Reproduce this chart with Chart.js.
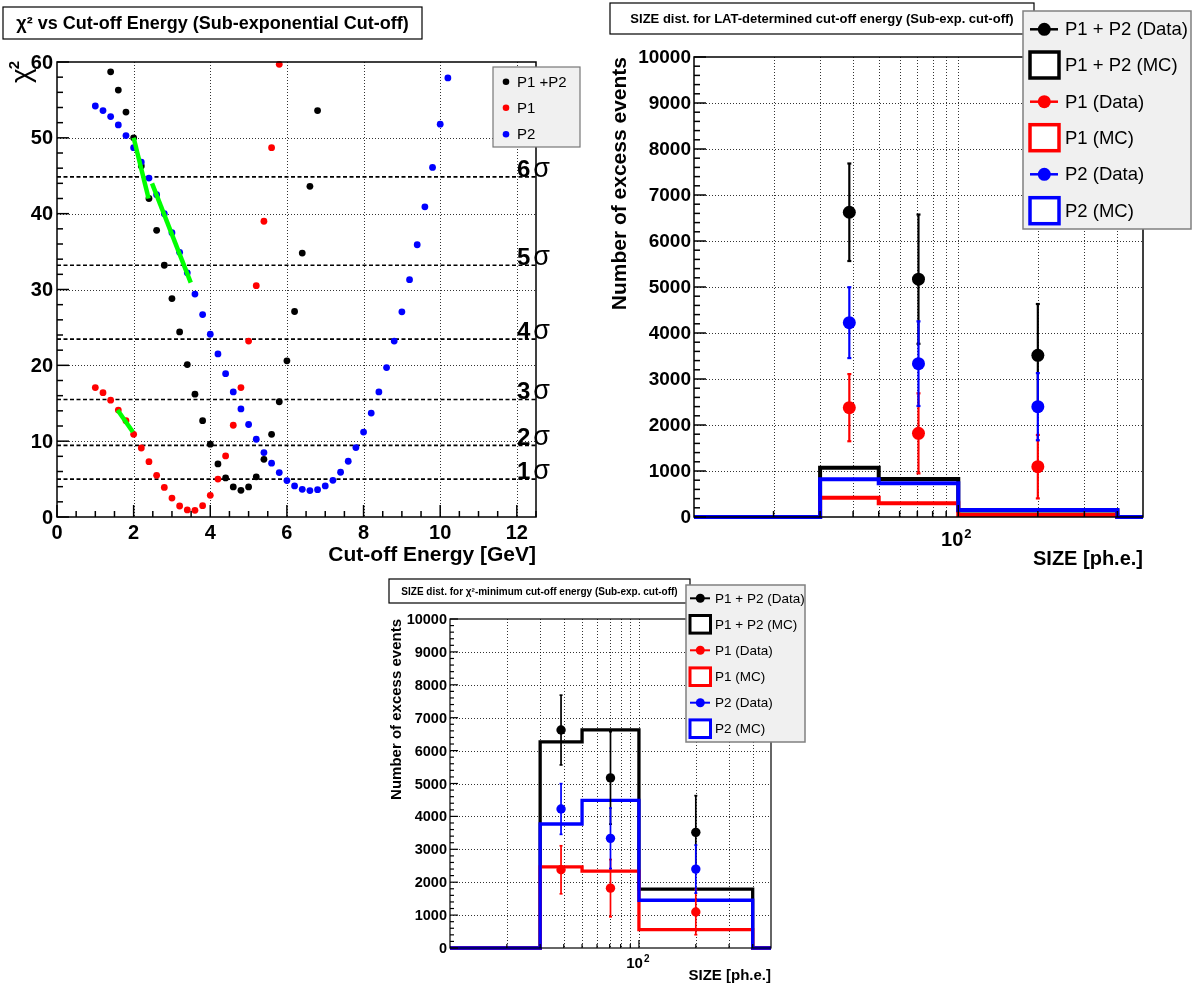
<!DOCTYPE html>
<html>
<head>
<meta charset="utf-8">
<script src="https://cdn.jsdelivr.net/npm/chart.js"></script>
<style>
html,body{margin:0;padding:0;background:#fff;}
body{width:1198px;height:985px;position:relative;overflow:hidden;}
canvas{position:absolute;}
</style>
</head>
<body>
<canvas id="c1" width="595" height="570" style="left:0;top:0"></canvas>
<canvas id="c2" width="603" height="570" style="left:595px;top:0"></canvas>
<canvas id="c3" width="450" height="415" style="left:370px;top:570px"></canvas>
<script>
const FONT = '"Liberation Sans", Arial, Helvetica, sans-serif';
Chart.defaults.font.family = FONT;

// ---------------- Panel 1 data: chi2 vs cut-off energy ----------------
const cutoffP12 = [1.4,1.6,1.8,2.0,2.2,2.4,2.6,2.8,3.0,3.2,3.4,3.6,3.8,4.0,4.2,4.4,4.6,4.8,5.0,5.2,5.4,5.6,5.8,6.0,6.2,6.4,6.6,6.8];
const chi2P12   = [58.7,56.3,53.4,50.0,46.3,42.0,37.8,33.2,28.8,24.4,20.1,16.2,12.7,9.6,7.0,5.15,3.96,3.52,3.96,5.3,7.6,10.9,15.2,20.6,27.1,34.8,43.6,53.6];
const cutoffP1  = [1.0,1.2,1.4,1.6,1.8,2.0,2.2,2.4,2.6,2.8,3.0,3.2,3.4,3.6,3.8,4.0,4.2,4.4,4.6,4.8,5.0,5.2,5.4,5.6,5.8];
const chi2P1    = [17.07,16.4,15.4,14.1,12.7,10.9,9.1,7.3,5.5,3.9,2.5,1.45,0.93,0.88,1.5,2.86,5.0,8.05,12.1,17.07,23.2,30.5,39.0,48.7,59.7];
const cutoffP2  = [1.0,1.2,1.4,1.6,1.8,2.0,2.2,2.4,2.6,2.8,3.0,3.2,3.4,3.6,3.8,4.0,4.2,4.4,4.6,4.8,5.0,5.2,5.4,5.6,5.8,6.0,6.2,6.4,6.6,6.8,7.0,7.2,7.4,7.6,7.8,8.0,8.2,8.4,8.6,8.8,9.0,9.2,9.4,9.6,9.8,10.0,10.2];
const chi2P2    = [54.2,53.6,52.8,51.7,50.3,48.7,46.8,44.7,42.5,40.0,37.5,34.9,32.2,29.4,26.7,24.1,21.5,18.9,16.5,14.25,12.2,10.25,8.5,7.1,5.86,4.8,4.1,3.65,3.48,3.6,4.1,4.84,5.9,7.35,9.15,11.2,13.7,16.5,19.7,23.2,27.05,31.3,35.9,40.9,46.1,51.8,57.9];
const sigmaLevels = [5.0, 9.45, 15.5, 23.45, 33.2, 44.85];
const sigmaNames  = ['1','2','3','4','5','6'];
const fitP12a = [[2.0,50.0],[2.39,42.0]];
const fitP12b = [[2.48,44.0],[3.49,30.9]];
const fitP1   = [[1.58,14.1],[1.98,11.2]];
const xTicks1 = [0,2,4,6,8,10,12];
const yTicks1 = [0,10,20,30,40,50,60];
const legend1 = ['P1 +P2','P1','P2'];

// ---------------- Panels 2 & 3 data: SIZE distributions ----------------
const sizeEdges   = [10,30,50,100,400,500];
const sizeCenters = [38.7,70.7,200];
const dataP12 = [6625,5170,3515]; const errP12 = [1060,1405,1115];
const dataP1  = [2377,1819,1094]; const errP1  = [730,870,690];
const dataP2  = [4225,3333,2398]; const errP2  = [770,920,730];
const mcLatP12 = [0,1072,826,140,0];
const mcLatP1  = [0,420,297,43,0];
const mcLatP2  = [0,819,732,152,0];
const mcMinP12 = [0,6264,6629,1787,0];
const mcMinP1  = [0,2467,2335,560,0];
const mcMinP2  = [0,3769,4487,1452,0];
const yTicksSize = [0,1000,2000,3000,4000,5000,6000,7000,8000,9000,10000];
const xGridSize  = [20,30,40,50,60,70,80,90,100,200,300,400];
const legendSize = ['P1 + P2 (Data)','P1 + P2 (MC)','P1 (Data)','P1 (MC)','P2 (Data)','P2 (MC)'];

// ---------------- helpers ----------------
const zip  = (xs, ys) => xs.map((x,i)=>({x:x, y:ys[i]}));
const hist = (edges, vals) => edges.map((e,i)=>({x:e, y:vals[Math.min(i, vals.length-1)]}));
const pairs = arr => arr.map(p=>({x:p[0], y:p[1]}));
function seg(ctx,x1,y1,x2,y2){ctx.beginPath();ctx.moveTo(x1,y1);ctx.lineTo(x2,y2);ctx.stroke();}
function text(ctx,s,x,y,font,align,base,color){
  ctx.font=font; ctx.textAlign=align||'left'; ctx.textBaseline=base||'alphabetic';
  ctx.fillStyle=color||'#000'; ctx.fillText(s,x,y);
}
function titleBox(ctx,box,str,font,ox,oy){
  const [x1,y1,x2,y2]=box;
  ctx.save();
  ctx.fillStyle='#fff'; ctx.fillRect(x1-ox,y1-oy,x2-x1,y2-y1);
  ctx.strokeStyle='#000'; ctx.lineWidth=1.2; ctx.setLineDash([]);
  ctx.strokeRect(x1-ox,y1-oy,x2-x1,y2-y1);
  text(ctx,str,(x1+x2)/2-ox,(y1+y2)/2-oy+1,font,'center','middle');
  ctx.restore();
}
const BLACK='#000000', RED='#ff0000', BLUE='#0000ff';

// ---------------- Panel 1 ----------------
const p1Plugin = {
  id:'p1deco',
  beforeDatasetsDraw(chart){
    const {ctx, chartArea:a, scales:{x,y}} = chart;
    ctx.save();
    ctx.strokeStyle='rgba(0,0,0,0.8)'; ctx.lineWidth=1; ctx.setLineDash([1,2]);
    xTicks1.forEach(v=>{ if(v<=0) return; const px=Math.round(x.getPixelForValue(v))+0.5; seg(ctx,px,a.top,px,a.bottom); });
    yTicks1.forEach(v=>{ if(v<=0||v>=60) return; const py=Math.round(y.getPixelForValue(v))+0.5; seg(ctx,a.left,py,a.right,py); });
    ctx.restore();
  },
  afterDatasetsDraw(chart){
    const {ctx, chartArea:a, scales:{x,y}} = chart;
    ctx.save();
    ctx.setLineDash([]); ctx.strokeStyle='#000'; ctx.lineWidth=1.5;
    ctx.strokeRect(a.left,a.top,a.right-a.left,a.bottom-a.top);
    for(let i=0;i<=25;i++){ const px=x.getPixelForValue(i*0.5); seg(ctx,px,a.bottom,px,a.bottom-(i%4===0?12:6)); }
    for(let i=0;i<=30;i++){ const py=y.getPixelForValue(i*2); seg(ctx,a.left,py,a.left+(i%5===0?12:6),py); }
    xTicks1.forEach(v=> text(ctx,String(v),x.getPixelForValue(v),a.bottom+6,'bold 20px '+FONT,'center','top'));
    yTicks1.forEach(v=> text(ctx,String(v),a.left-4,y.getPixelForValue(v)+1,'bold 20px '+FONT,'right','middle'));
    text(ctx,'Cut-off Energy [GeV]',a.right,561,'bold 21px '+FONT,'right','alphabetic');
    // y title chi^2
    ctx.save(); ctx.translate(30,83); ctx.rotate(-Math.PI/2);
    text(ctx,'χ',0,0,'28px '+FONT,'left','alphabetic');
    ctx.font='28px '+FONT; const wc=ctx.measureText('χ').width;
    text(ctx,'2',wc-1,-11,'bold 15px '+FONT,'left','alphabetic');
    ctx.restore();
    // sigma labels
    sigmaLevels.forEach((lv,i)=>{
      const py=y.getPixelForValue(lv);
      ctx.font='bold 24px '+FONT; const w=ctx.measureText(sigmaNames[i]).width;
      text(ctx,sigmaNames[i],517,py,'bold 24px '+FONT,'left','alphabetic');
      text(ctx,'σ',517+w+3,py,'27px '+FONT,'left','alphabetic');
    });
    ctx.restore();
  },
  afterDraw(chart){
    const ctx=chart.ctx;
    ctx.save();
    titleBox(ctx,[3,7,422,39],'χ² vs Cut-off Energy (Sub-exponential Cut-off)','bold 18px '+FONT,0,0);
    // legend
    ctx.fillStyle='#f0f0f0'; ctx.fillRect(493,67,87,80);
    ctx.strokeStyle='#777'; ctx.lineWidth=1.2; ctx.strokeRect(493,67,87,80);
    const cols=[BLACK,RED,BLUE], ys=[81.7,107.7,134.3];
    legend1.forEach((lab,i)=>{
      ctx.fillStyle=cols[i]; ctx.beginPath(); ctx.arc(506,ys[i],3.3,0,2*Math.PI); ctx.fill();
      text(ctx,lab,517,ys[i]+1,'15px '+FONT,'left','middle');
    });
    ctx.restore();
  }
};

const sigmaDatasets = sigmaLevels.map(lv=>({
  type:'line', data:[{x:0,y:lv},{x:12.5,y:lv}], borderColor:'#000', borderWidth:1.6,
  borderDash:[4,2.5], pointRadius:0, order:10, clip:false
}));
const fitStyle = {type:'line', borderColor:'#00ff00', borderWidth:4.5, pointRadius:0, order:0, borderCapStyle:'butt'};

new Chart(document.getElementById('c1'),{
  type:'scatter',
  data:{datasets:[
    ...sigmaDatasets,
    {label:'P1 +P2', data:zip(cutoffP12,chi2P12), backgroundColor:BLACK, borderColor:BLACK, pointRadius:3.4, pointBorderWidth:0, order:5, clip:false},
    {label:'P1', data:zip(cutoffP1,chi2P1), backgroundColor:RED, borderColor:RED, pointRadius:3.4, pointBorderWidth:0, order:4, clip:false},
    {label:'P2', data:zip(cutoffP2,chi2P2), backgroundColor:BLUE, borderColor:BLUE, pointRadius:3.4, pointBorderWidth:0, order:3, clip:false},
    Object.assign({data:pairs(fitP12a)}, fitStyle),
    Object.assign({data:pairs(fitP12b)}, fitStyle),
    Object.assign({data:pairs(fitP1)}, fitStyle)
  ]},
  options:{
    responsive:false, animation:false, events:[],
    layout:{padding:{left:57,top:62,right:59,bottom:53}},
    scales:{x:{type:'linear',min:0,max:12.5,display:false}, y:{type:'linear',min:0,max:60,display:false}},
    plugins:{legend:{display:false}, tooltip:{enabled:false}}
  },
  plugins:[p1Plugin]
});

// ---------------- Panels 2 & 3 ----------------
function sizePanel(id, cfg, mc12, mc1, mc2){
  const ox=cfg.ox, oy=cfg.oy;
  const plugin = {
    id:'deco'+id,
    beforeDatasetsDraw(chart){
      const {ctx, chartArea:a, scales:{x,y}} = chart;
      ctx.save();
      ctx.strokeStyle='rgba(0,0,0,0.8)'; ctx.lineWidth=1; ctx.setLineDash([1,2]);
      xGridSize.forEach(v=>{ const px=Math.round(x.getPixelForValue(v))+0.5; seg(ctx,px,a.top,px,a.bottom); });
      yTicksSize.forEach(v=>{ if(v<=0||v>=10000) return; const py=Math.round(y.getPixelForValue(v))+0.5; seg(ctx,a.left,py,a.right,py); });
      ctx.restore();
    },
    beforeDatasetDraw(chart,args){
      const ds=chart.data.datasets[args.index];
      if(!ds.errs) return;
      const {ctx, scales:{x,y}} = chart;
      ctx.save(); ctx.strokeStyle=ds.borderColor; ctx.lineWidth=cfg.errW; ctx.setLineDash([]);
      ds.data.forEach((p,i)=>{
        const px=x.getPixelForValue(p.x);
        const y1=y.getPixelForValue(p.y-ds.errs[i]), y2=y.getPixelForValue(p.y+ds.errs[i]);
        seg(ctx,px,y1,px,y2);
        seg(ctx,px-cfg.capW,y1,px+cfg.capW,y1); seg(ctx,px-cfg.capW,y2,px+cfg.capW,y2);
      });
      ctx.restore();
    },
    afterDatasetsDraw(chart){
      const {ctx, chartArea:a, scales:{x,y}} = chart;
      ctx.save(); ctx.setLineDash([]); ctx.strokeStyle='#000'; ctx.lineWidth=cfg.frameW;
      ctx.strokeRect(a.left,a.top,a.right-a.left,a.bottom-a.top);
      for(let i=0;i<=50;i++){ const py=y.getPixelForValue(i*200); seg(ctx,a.left,py,a.left+(i%5===0?cfg.tickMaj:cfg.tickMin),py); }
      xGridSize.forEach(v=>{ const px=x.getPixelForValue(v); seg(ctx,px,a.bottom,px,a.bottom-(v===100?cfg.tickMaj:cfg.tickMin)); });
      yTicksSize.forEach(v=> text(ctx,String(v),a.left-3,y.getPixelForValue(v)+1,cfg.tickFont,'right','middle'));
      const p100=x.getPixelForValue(100);
      text(ctx,'10',p100+cfg.tenDx,cfg.tenY-oy,cfg.tenFont,'right','alphabetic');
      text(ctx,'2',p100+cfg.tenDx+1,cfg.tenY-oy-cfg.supDy,cfg.supFont,'left','alphabetic');
      text(ctx,'SIZE [ph.e.]',a.right,cfg.xTitleY-oy,cfg.xTitleFont,'right','alphabetic');
      ctx.save(); ctx.translate(cfg.yTitleX-ox,a.top); ctx.rotate(-Math.PI/2);
      text(ctx,'Number of excess events',0,0,cfg.yTitleFont,'right','middle');
      ctx.restore();
      ctx.restore();
    },
    afterDraw(chart){
      const ctx=chart.ctx;
      ctx.save();
      titleBox(ctx,cfg.titleBox,cfg.title,cfg.titleFont,ox,oy);
      const [x1,y1,x2,y2]=cfg.legBox;
      ctx.fillStyle='#f0f0f0'; ctx.fillRect(x1-ox,y1-oy,x2-x1,y2-y1);
      ctx.strokeStyle='#808080'; ctx.lineWidth=1.5; ctx.strokeRect(x1-ox,y1-oy,x2-x1,y2-y1);
      const cols=[BLACK,BLACK,RED,RED,BLUE,BLUE];
      legendSize.forEach((lab,i)=>{
        const cy=cfg.legY[i]-oy, c=cols[i];
        if(i%2===0){
          ctx.strokeStyle=c; ctx.lineWidth=cfg.legLineW; seg(ctx,cfg.legLine[0]-ox,cy,cfg.legLine[1]-ox,cy);
          ctx.fillStyle=c; ctx.beginPath(); ctx.arc(cfg.legDot-ox,cy,cfg.legDotR,0,2*Math.PI); ctx.fill();
        } else {
          const bx1=cfg.legBoxX[0]-ox, bx2=cfg.legBoxX[1]-ox;
          ctx.fillStyle='#fff'; ctx.fillRect(bx1,cy-cfg.legBoxH,bx2-bx1,2*cfg.legBoxH);
          ctx.strokeStyle=c; ctx.lineWidth=cfg.legBoxW; ctx.strokeRect(bx1,cy-cfg.legBoxH,bx2-bx1,2*cfg.legBoxH);
        }
        text(ctx,lab,cfg.legTextX-ox,cy+1,cfg.legFont,'left','middle');
      });
      ctx.restore();
    }
  };
  const histDs = (vals,c,ord)=>({type:'line', data:hist(sizeEdges,vals), stepped:true, borderColor:c, borderWidth:cfg.histW,
    pointRadius:0, order:ord, clip:8, borderJoinStyle:'miter', borderCapStyle:'butt'});
  const dataDs = (vals,errs,c,ord)=>({data:zip(sizeCenters,vals), errs:errs, backgroundColor:c, borderColor:c,
    pointRadius:cfg.dotR, pointBorderWidth:0, order:ord, clip:false});
  return new Chart(document.getElementById(id),{
    type:'scatter',
    data:{datasets:[
      histDs(mc12,BLACK,6), histDs(mc1,RED,5), histDs(mc2,BLUE,4),
      dataDs(dataP12,errP12,BLACK,3), dataDs(dataP1,errP1,RED,2), dataDs(dataP2,errP2,BLUE,1)
    ]},
    options:{
      responsive:false, animation:false, events:[],
      layout:{padding:cfg.pad},
      scales:{x:{type:'logarithmic',min:10,max:500,display:false}, y:{type:'linear',min:0,max:10000,display:false}},
      plugins:{legend:{display:false}, tooltip:{enabled:false}}
    },
    plugins:[plugin]
  });
}

sizePanel('c2',{
  ox:595, oy:0, pad:{left:99,top:57,right:55,bottom:53},
  histW:4, errW:2.2, capW:2, dotR:6.5, frameW:1.5, tickMaj:12, tickMin:6,
  tickFont:'bold 19px '+FONT, tenFont:'bold 20px '+FONT, supFont:'bold 13px '+FONT, tenDx:5, tenY:546, supDy:8,
  xTitleFont:'bold 20px '+FONT, xTitleY:565, yTitleFont:'bold 21px '+FONT, yTitleX:620,
  titleBox:[610,3,1034,34], title:'SIZE dist. for LAT-determined cut-off energy (Sub-exp. cut-off)', titleFont:'bold 13px '+FONT,
  legBox:[1023,11,1191,229], legY:[29.3,65,101.7,137.7,174.3,210.7],
  legLine:[1030,1058], legDot:1044.3, legDotR:6.5, legLineW:2.5,
  legBoxX:[1030,1059], legBoxH:13, legBoxW:3.5, legTextX:1065, legFont:'18.5px '+FONT
}, mcLatP12, mcLatP1, mcLatP2);

sizePanel('c3',{
  ox:370, oy:570, pad:{left:80,top:49,right:49,bottom:37},
  histW:3.3, errW:1.7, capW:1.5, dotR:4.7, frameW:1.2, tickMaj:8, tickMin:4,
  tickFont:'bold 14.5px '+FONT, tenFont:'bold 15px '+FONT, supFont:'bold 10px '+FONT, tenDx:4, tenY:968, supDy:6,
  xTitleFont:'bold 15px '+FONT, xTitleY:980, yTitleFont:'bold 15px '+FONT, yTitleX:397,
  titleBox:[389,579,690,603], title:'SIZE dist. for χ²-minimum cut-off energy (Sub-exp. cut-off)', titleFont:'bold 10px '+FONT,
  legBox:[686,585,805,742], legY:[598.3,624.3,650.3,676.7,702.7,728.7],
  legLine:[690,710], legDot:700.3, legDotR:4.5, legLineW:2,
  legBoxX:[690,710.5], legBoxH:8.8, legBoxW:3, legTextX:715, legFont:'13.5px '+FONT
}, mcMinP12, mcMinP1, mcMinP2);
</script>
</body>
</html>
